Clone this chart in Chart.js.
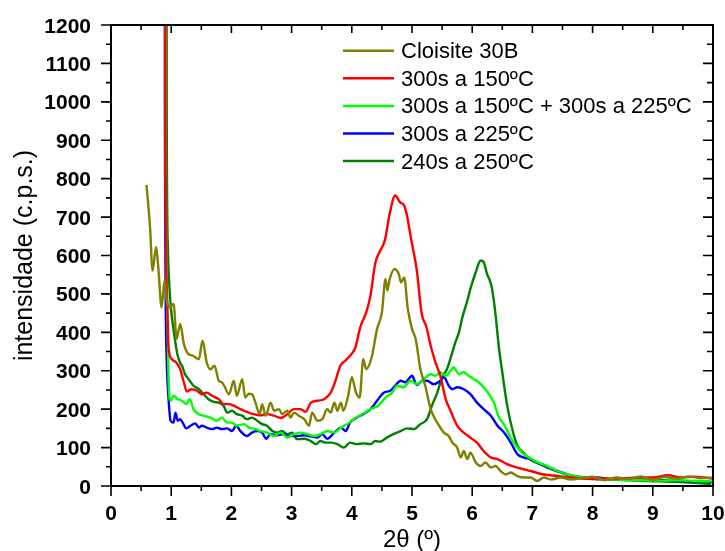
<!DOCTYPE html>
<html><head><meta charset="utf-8">
<script src="https://cdn.jsdelivr.net/npm/chart.js@4/dist/chart.umd.min.js"></script>
<style>html,body{margin:0;padding:0;background:#fff;overflow:hidden}#wrap{width:725px;height:551px}</style>
</head><body><div id="wrap"><canvas id="c" width="725" height="551"></canvas></div>
<script>
const seriesNames = ['Cloisite 30B', '300s a 150ºC', '300s a 150ºC + 300s a 225ºC', '300s a 225ºC', '240s a 250ºC'];
const seriesColors = ['#808000', '#ff0000', '#00ff00', '#0000ff', '#008000'];
const xTicks = [0, 1, 2, 3, 4, 5, 6, 7, 8, 9, 10];
const yTicks = [0, 100, 200, 300, 400, 500, 600, 700, 800, 900, 1000, 1100, 1200];
const xTitle = '2θ (º)';
const yTitle = 'intensidade (c.p.s.)';

const cloisiteX = [0.59,0.65,0.69,0.75,0.79,0.84,0.89,0.93,0.98,1.04,1.09,1.15,1.21,1.29,1.35,1.40,1.46,1.52,1.59,1.65,1.72,1.79,1.84,1.88,1.96,2.04,2.09,2.18,2.23,2.29,2.34,2.40,2.47,2.51,2.57,2.65,2.71,2.79,2.84,2.93,2.98,3.04,3.12,3.21,3.29,3.34,3.43,3.51,3.59,3.65,3.71,3.76,3.82,3.86,3.94,4.00,4.07,4.13,4.19,4.24,4.33,4.42,4.50,4.56,4.59,4.63,4.71,4.78,4.82,4.87,4.93,5.00,5.06,5.14,5.22,5.31,5.42,5.53,5.61,5.67,5.75,5.81,5.86,5.92,5.97,6.06,6.14,6.22,6.31,6.39,6.47,6.56,6.64,6.75,6.86,6.97,7.08,7.19,7.31,7.47,7.64,7.8,8.0,8.2,8.4,8.6,8.8,9.0,9.2,9.4,9.6,9.8,10.0];
const cloisiteY = [784,670,561,622,560,465,535,480,465,474,383,422,370,343,340,335,330,378,322,304,313,274,270,261,239,274,235,278,230,240,239,217,187,213,183,217,196,200,187,196,178,191,183,174,157,191,170,174,200,191,217,196,217,196,235,283,243,230,330,304,335,409,452,539,509,539,565,552,530,543,461,409,383,304,261,200,165,139,130,113,100,74,91,70,87,61,52,61,48,52,39,30,35,26,22,22,13,22,17,22,17,20,24,15,22,18,25,16,23,19,25,20,22];

const s150X = [0.885,0.905,0.93,0.955,1.01,1.08,1.15,1.21,1.26,1.34,1.43,1.51,1.59,1.68,1.79,1.87,1.96,2.04,2.15,2.26,2.37,2.48,2.59,2.71,2.82,2.93,3.04,3.15,3.23,3.32,3.43,3.54,3.65,3.72,3.81,3.89,3.97,4.06,4.14,4.25,4.31,4.39,4.47,4.55,4.63,4.72,4.80,4.87,4.91,4.99,5.08,5.16,5.24,5.31,5.39,5.47,5.56,5.64,5.75,5.86,5.97,6.08,6.19,6.31,6.42,6.58,6.75,6.97,7.19,7.42,7.64,7.92,8.2,8.5,8.8,9.0,9.25,9.47,9.69,9.85,10.0];
const s150Y = [5000,900,500,362,330,322,304,270,246,252,248,239,243,235,226,213,213,209,200,193,187,184,187,183,177,187,200,200,193,217,222,226,243,270,313,326,339,361,413,457,496,580,612,640,709,756,739,730,709,639,561,449,414,365,322,287,226,196,157,139,126,113,91,74,70,57,48,39,30,26,22,19,19,20,22,22,28,22,24,22,19];

const s150p225X = [0.89,0.91,0.935,0.96,0.99,1.04,1.11,1.18,1.25,1.31,1.37,1.46,1.54,1.65,1.76,1.84,1.93,2.01,2.09,2.21,2.29,2.40,2.48,2.59,2.71,2.82,2.93,3.04,3.15,3.26,3.37,3.48,3.59,3.71,3.82,3.96,4.03,4.17,4.31,4.44,4.56,4.67,4.75,4.86,4.97,5.08,5.19,5.31,5.39,5.47,5.56,5.64,5.69,5.78,5.86,5.94,6.03,6.11,6.19,6.28,6.36,6.44,6.53,6.64,6.75,6.86,6.97,7.08,7.25,7.42,7.58,7.75,7.9,8.2,8.5,8.8,9.1,9.4,9.7,10.0];
const s150p225Y = [5000,900,450,261,222,235,226,222,213,226,200,187,183,178,170,178,165,165,157,161,152,148,143,139,130,139,126,135,139,135,130,135,143,139,152,165,174,187,200,209,230,243,261,257,274,265,278,291,287,296,287,300,309,291,296,287,278,270,257,239,217,180,160,125,100,82,72,62,52,39,30,24,22,18,16,15,14,15,13,12];

const s225X = [0.88,0.895,0.925,0.96,0.99,1.04,1.07,1.11,1.15,1.19,1.25,1.32,1.40,1.46,1.51,1.59,1.68,1.76,1.84,1.93,2.01,2.08,2.15,2.26,2.34,2.43,2.51,2.58,2.65,2.76,2.87,2.98,3.09,3.21,3.32,3.43,3.51,3.59,3.71,3.82,3.90,3.97,4.08,4.19,4.31,4.42,4.53,4.64,4.72,4.81,4.89,5.00,5.08,5.17,5.25,5.36,5.47,5.53,5.61,5.67,5.75,5.86,5.97,6.08,6.19,6.31,6.42,6.53,6.64,6.75,6.86,6.97,7.08,7.25,7.42,7.58,7.75,8.08,8.36,8.65,8.92,9.2,9.47,9.75,10.0];
const s225Y = [5000,1000,330,217,170,165,191,170,174,165,150,157,163,152,157,152,148,152,148,150,143,157,143,130,139,143,139,123,135,132,135,130,130,132,129,126,135,123,139,152,143,165,178,187,200,222,243,248,261,274,270,287,263,274,274,265,274,283,261,252,257,252,239,217,200,183,157,139,113,83,74,70,61,50,39,30,24,22,17,17,16,15,13,12,10];

const s250X = [0.9,0.925,0.945,0.97,1.0,1.05,1.1,1.15,1.18,1.23,1.29,1.37,1.46,1.54,1.62,1.71,1.79,1.87,1.93,2.01,2.09,2.18,2.26,2.34,2.43,2.51,2.59,2.68,2.76,2.84,2.93,3.01,3.09,3.21,3.32,3.40,3.48,3.57,3.65,3.76,3.87,3.97,4.08,4.19,4.31,4.39,4.47,4.58,4.69,4.81,4.92,5.03,5.14,5.25,5.33,5.42,5.50,5.58,5.67,5.72,5.78,5.83,5.92,5.97,6.06,6.14,6.19,6.25,6.28,6.33,6.39,6.44,6.50,6.58,6.67,6.75,6.86,6.97,7.08,7.25,7.47,7.69,7.92,8.36,8.92,9.47,9.97];
const s250Y = [5000,1000,620,520,455,395,345,320,313,291,278,261,252,239,226,219,217,209,191,196,187,183,174,178,170,161,157,143,139,143,135,139,122,123,117,109,117,113,113,109,100,113,109,111,109,117,115,126,135,143,150,148,161,174,209,243,283,304,348,374,400,435,483,513,557,587,583,550,540,513,443,365,296,210,145,105,85,68,60,48,35,24,19,16,13,10,5];

const seriesX = [cloisiteX, s150X, s150p225X, s225X, s250X];
const seriesY = [cloisiteY, s150Y, s150p225Y, s225Y, s250Y];

const datasets = seriesNames.map((name, i) => ({
  label: name,
  data: seriesX[i].map((x, j) => ({x: x, y: seriesY[i][j]})),
  borderColor: seriesColors[i],
  backgroundColor: seriesColors[i],
  borderWidth: 2.4,
  pointRadius: 0,
  cubicInterpolationMode: 'monotone',
  fill: false,
  borderJoinStyle: 'round',
  order: i
}));

const FONT = '"Liberation Sans", Arial, Helvetica, sans-serif';

const framePlugin = {
  id: 'originFrame',
  afterDraw(chart) {
    const ctx = chart.ctx;
    const a = chart.chartArea;
    const xs = chart.scales.x, ys = chart.scales.y;
    ctx.save();
    ctx.strokeStyle = '#000';
    ctx.fillStyle = '#000';
    ctx.lineWidth = 2;
    ctx.lineCap = 'butt';
    ctx.strokeRect(a.left, a.top, a.right - a.left, a.bottom - a.top);
    ctx.lineWidth = 1.6;
    for (let i = 0; i < xTicks.length; i++) {
      const px = xs.getPixelForValue(xTicks[i]);
      ctx.beginPath();
      ctx.moveTo(px, a.bottom); ctx.lineTo(px, a.bottom + 10);
      ctx.moveTo(px, a.top); ctx.lineTo(px, a.top + 8);
      ctx.stroke();
      if (i < xTicks.length - 1) {
        const pm = xs.getPixelForValue((xTicks[i] + xTicks[i + 1]) / 2);
        ctx.beginPath();
        ctx.moveTo(pm, a.bottom); ctx.lineTo(pm, a.bottom + 5);
        ctx.moveTo(pm, a.top); ctx.lineTo(pm, a.top + 5);
        ctx.stroke();
      }
    }
    for (let i = 0; i < yTicks.length; i++) {
      const py = ys.getPixelForValue(yTicks[i]);
      ctx.beginPath();
      ctx.moveTo(a.left, py); ctx.lineTo(a.left - 10, py);
      ctx.moveTo(a.right, py); ctx.lineTo(a.right - 10, py);
      ctx.stroke();
      if (i < yTicks.length - 1) {
        const pm = ys.getPixelForValue((yTicks[i] + yTicks[i + 1]) / 2);
        ctx.beginPath();
        ctx.moveTo(a.left, pm); ctx.lineTo(a.left - 5, pm);
        ctx.moveTo(a.right, pm); ctx.lineTo(a.right - 6, pm);
        ctx.stroke();
      }
    }
    ctx.font = 'bold 21px ' + FONT;
    ctx.textAlign = 'center';
    ctx.textBaseline = 'alphabetic';
    xTicks.forEach(v => ctx.fillText(String(v), xs.getPixelForValue(v), a.bottom + 34));
    ctx.textAlign = 'right';
    yTicks.forEach(v => ctx.fillText(String(v), a.left - 20, ys.getPixelForValue(v) + 7.5));
    ctx.font = '24px ' + FONT;
    ctx.textAlign = 'center';
    ctx.fillText(xTitle, (a.left + a.right) / 2, 547);
    ctx.save();
    ctx.translate(32, (a.top + a.bottom) / 2);
    ctx.rotate(-Math.PI / 2);
    ctx.font = '25px ' + FONT;
    ctx.fillText(yTitle, 0, 0);
    ctx.restore();
    ctx.font = '22px ' + FONT;
    ctx.textAlign = 'left';
    chart.data.datasets.forEach((ds, i) => {
      const cy = 50.7 + i * 27.6;
      ctx.strokeStyle = ds.borderColor;
      ctx.lineWidth = 2.5;
      ctx.beginPath();
      ctx.moveTo(343, cy); ctx.lineTo(394, cy);
      ctx.stroke();
      ctx.fillStyle = '#000';
      ctx.fillText(ds.label, 401, cy + 7.5);
    });
    ctx.restore();
  }
};

new Chart(document.getElementById('c'), {
  type: 'line',
  data: { datasets: datasets },
  options: {
    responsive: false,
    animation: false,
    devicePixelRatio: 1,
    layout: { padding: { left: 111, right: 12, top: 25, bottom: 65 } },
    scales: {
      x: { type: 'linear', min: 0, max: 10, display: false },
      y: { type: 'linear', min: 0, max: 1200, display: false }
    },
    plugins: { legend: { display: false }, tooltip: { enabled: false } }
  },
  plugins: [framePlugin]
});
</script>
</body></html>
